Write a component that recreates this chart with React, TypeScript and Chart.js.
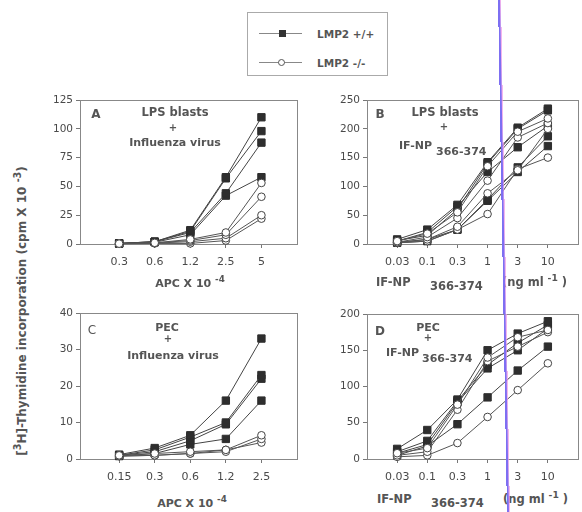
import React, { useEffect, useRef } from "react";
import { Chart, registerables } from "chart.js";
Chart.register(...registerables);

// ---------- data ----------
const apcLabelsA = ["0.3", "0.6", "1.2", "2.5", "5"];
const apcLabelsC = ["0.15", "0.3", "0.6", "1.2", "2.5"];
const npLabels = ["0.03", "0.1", "0.3", "1", "3", "10"];

const aWild = [
  [0.5, 2, 12, 58, 110],
  [0.5, 2, 11, 57, 98],
  [0.5, 2, 10, 44, 88],
  [0.5, 1.5, 8, 42, 58],
];
const aKnock = [
  [0.3, 1, 4, 10, 53],
  [0.3, 1, 3, 8, 41],
  [0.3, 0.8, 2, 5, 25],
  [0.2, 0.5, 0.5, 3, 22],
];

const bWild = [
  [8, 25, 68, 142, 202, 235],
  [6, 15, 60, 140, 200, 232],
  [5, 20, 65, 125, 168, 205],
  [3, 8, 25, 77, 133, 187],
  [2, 5, 25, 75, 125, 170],
];
const bKnock = [
  [5, 18, 55, 135, 195, 218],
  [3, 12, 45, 110, 185, 210],
  [2, 8, 30, 88, 128, 200],
  [2, 5, 25, 52, 130, 150],
];

const cWild = [
  [1.2, 3, 6.5, 16, 33],
  [1, 2.5, 6, 10, 23],
  [1, 2, 5, 9.5, 22],
  [0.8, 1.5, 4, 5.5, 16],
];
const cKnock = [
  [1, 1.5, 2, 2.5, 6.5],
  [0.8, 1, 1.5, 2, 5.5],
  [0.8, 1, 1.5, 2.5, 4.5],
];

const dWild = [
  [14, 40, 82, 150, 173, 190],
  [10, 25, 80, 130, 160, 185],
  [8, 20, 78, 125, 150, 180],
  [5, 18, 48, 85, 122, 155],
];
const dKnock = [
  [8, 15, 75, 140, 168, 178],
  [5, 10, 68, 135, 155, 175],
  [3, 5, 22, 58, 95, 132],
];

// ---------- styling ----------
const FONT = "'DejaVu Sans', 'Liberation Sans', Arial, sans-serif";
const INK = "#4a4a4a";
const AXIS = "#777";

const framePlugin = {
  id: "frame",
  beforeDatasetsDraw(chart: any) {
    const { ctx, chartArea: a } = chart;
    ctx.save();
    ctx.strokeStyle = "#888";
    ctx.lineWidth = 1;
    ctx.strokeRect(Math.round(a.left) + 0.5, Math.round(a.top) + 0.5, Math.round(a.right - a.left), Math.round(a.bottom - a.top));
    ctx.restore();
  },
};

type PanelProps = {
  box: [number, number, number, number];
  labels: string[];
  wild: number[][];
  knock: number[][];
  xMin: number;
  xMax: number;
  yMax: number;
  yStep: number;
};

function Panel({ box, labels, wild, knock, xMin, xMax, yMax, yStep }: PanelProps) {
  const ref = useRef<HTMLCanvasElement>(null);
  const [L, T, R, B] = box;
  const left = L - 40;
  const top = T - 10;
  const width = R + 10 - left;
  const height = B + 30 - top;

  useEffect(() => {
    if (!ref.current) return;
    const toPts = (arr: number[]) => arr.map((v, i) => ({ x: i, y: v }));
    const datasets: any[] = [];
    knock.forEach((s) =>
      datasets.push({
        data: toPts(s),
        borderColor: "#555",
        borderWidth: 1,
        pointStyle: "circle",
        pointRadius: 3.8,
        pointBackgroundColor: "#fff",
        pointBorderColor: "#444",
        pointBorderWidth: 1,
        clip: false,
      })
    );
    wild.forEach((s) =>
      datasets.push({
        data: toPts(s),
        borderColor: "#444",
        borderWidth: 1,
        pointStyle: "rect",
        pointRadius: 5.2,
        pointBackgroundColor: "#2e2e2e",
        pointBorderColor: "#2e2e2e",
        pointBorderWidth: 1,
        clip: false,
      })
    );
    const chart = new Chart(ref.current, {
      type: "line",
      data: { datasets },
      plugins: [framePlugin],
      options: {
        animation: false,
        responsive: false,
        devicePixelRatio: 1,
        layout: { padding: { top: 10, right: 10, left: 0, bottom: 0 } },
        plugins: { legend: { display: false }, tooltip: { enabled: false } },
        elements: { line: { tension: 0 } },
        scales: {
          x: {
            type: "linear",
            min: xMin,
            max: xMax,
            afterFit: (s: any) => {
              s.height = 30;
            },
            afterBuildTicks: (s: any) => {
              s.ticks = labels.map((_, i) => ({ value: i }));
            },
            ticks: {
              autoSkip: false,
              maxRotation: 0,
              padding: 8,
              color: INK,
              font: { family: FONT, size: 11 },
              callback: (v: any) => labels[v as number] ?? "",
            },
            grid: { drawOnChartArea: false, drawTicks: true, tickLength: 4, color: AXIS },
            border: { display: true, color: AXIS },
          },
          y: {
            type: "linear",
            min: 0,
            max: yMax,
            afterFit: (s: any) => {
              s.width = 40;
            },
            ticks: {
              stepSize: yStep,
              padding: 3,
              color: INK,
              font: { family: FONT, size: 10.5 },
            },
            grid: { drawOnChartArea: false, drawTicks: true, tickLength: 4, color: AXIS },
            border: { display: true, color: AXIS },
          },
        },
      } as any,
    });
    return () => chart.destroy();
  }, []);

  return (
    <canvas
      ref={ref}
      width={width}
      height={height}
      style={{ position: "absolute", left, top, width, height }}
    />
  );
}

function Txt({ x, y, children, size = 11, bold = true, anchor = "center" }: any) {
  return (
    <div
      style={{
        position: "absolute",
        left: x,
        top: y,
        transform: anchor === "center" ? "translate(-50%, -50%)" : "translate(0, -50%)",
        whiteSpace: "nowrap",
        fontFamily: FONT,
        fontSize: size,
        fontWeight: bold ? "bold" : "normal",
        color: "#555",
        lineHeight: 1,
      }}
    >
      {children}
    </div>
  );
}

const sup = { fontSize: "0.8em", position: "relative" as const, top: "-0.55em" };

function NpTitle({ x, y }: { x: number; y: number }) {
  return (
    <>
      <Txt x={x} y={y} anchor="left" size={11.5}>IF-NP</Txt>
      <Txt x={x + 54} y={y + 4} anchor="left" size={11.5}>366-374</Txt>
      <Txt x={x + 126} y={y} anchor="left" size={11.5}>
        (ng ml <span style={sup}>-1</span> )
      </Txt>
    </>
  );
}

export default function App() {
  return (
    <div
      style={{
        position: "fixed",
        left: 0,
        top: 0,
        width: 582,
        height: 512,
        overflow: "hidden",
        background: "#fff",
      }}
    >
      {/* legend */}
      <div style={{ position: "absolute", left: 247, top: 12, width: 139, height: 62, border: "1px solid #aaa" }} />
      <div style={{ position: "absolute", left: 259, top: 33, width: 43, height: 1, background: "#888" }} />
      <div style={{ position: "absolute", left: 279, top: 30, width: 7, height: 7, background: "#333" }} />
      <div style={{ position: "absolute", left: 259, top: 62, width: 43, height: 1, background: "#888" }} />
      <div
        style={{
          position: "absolute",
          left: 278,
          top: 59,
          width: 5,
          height: 5,
          borderRadius: "50%",
          border: "1px solid #555",
          background: "#fff",
        }}
      />
      <Txt x={317} y={34} anchor="left" size={10.5}>LMP2 +/+</Txt>
      <Txt x={317} y={63} anchor="left" size={10.5}>LMP2 -/-</Txt>

      <Panel box={[80, 100, 297, 244]} labels={apcLabelsA} wild={aWild} knock={aKnock} xMin={-1.1} xMax={5} yMax={125} yStep={25} />
      <Panel box={[367, 100, 578, 244]} labels={npLabels} wild={bWild} knock={bKnock} xMin={-1} xMax={6} yMax={250} yStep={50} />
      <Panel box={[80, 313, 297, 459]} labels={apcLabelsC} wild={cWild} knock={cKnock} xMin={-1.1} xMax={5} yMax={40} yStep={10} />
      <Panel box={[367, 314, 578, 459]} labels={npLabels} wild={dWild} knock={dKnock} xMin={-1} xMax={6} yMax={200} yStep={50} />

      {/* panel annotations */}
      <Txt x={96} y={114} size={12}>A</Txt>
      <Txt x={175} y={113} size={11.5}>LPS blasts</Txt>
      <Txt x={173} y={128} size={10}>+</Txt>
      <Txt x={175} y={142}>Influenza virus</Txt>

      <Txt x={380} y={114} size={12}>B</Txt>
      <Txt x={445} y={113} size={11.5}>LPS blasts</Txt>
      <Txt x={444} y={127} size={10}>+</Txt>
      <Txt x={399} y={145} anchor="left">IF-NP</Txt>
      <Txt x={436} y={151} anchor="left">366-374</Txt>

      <Txt x={92} y={330} size={12} bold={false}>C</Txt>
      <Txt x={167} y={327}>PEC</Txt>
      <Txt x={168} y={339} size={10}>+</Txt>
      <Txt x={173} y={355}>Influenza virus</Txt>

      <Txt x={380} y={331} size={12}>D</Txt>
      <Txt x={428} y={327}>PEC</Txt>
      <Txt x={428} y={338} size={10}>+</Txt>
      <Txt x={386} y={352} anchor="left">IF-NP</Txt>
      <Txt x={422} y={358} anchor="left">366-374</Txt>

      {/* axis titles */}
      <Txt x={190} y={283}>
        APC X 10 <span style={sup}>-4</span>
      </Txt>
      <NpTitle x={376} y={283} />
      <Txt x={192} y={503}>
        APC X 10 <span style={sup}>-4</span>
      </Txt>
      <NpTitle x={377} y={500} />

      <div
        style={{
          position: "absolute",
          left: 22,
          top: 311,
          transform: "translate(-50%, -50%) rotate(-90deg)",
          whiteSpace: "nowrap",
          fontFamily: FONT,
          fontSize: 12,
          fontWeight: "bold",
          color: "#555",
          lineHeight: 1,
        }}
      >
        [<span style={sup}>3</span>H]-Thymidine incorporation (cpm X 10 <span style={sup}>-3</span>)
      </div>

      {/* scanner artefact line */}
      <div
        style={{
          position: "absolute",
          left: 498,
          top: -2,
          width: 2,
          height: 518,
          background: "#7d6ff2",
          boxShadow: "1px 0 0 rgba(240,150,230,0.7)",
          transformOrigin: "top left",
          transform: "rotate(-1deg)",
        }}
      />
    </div>
  );
}
